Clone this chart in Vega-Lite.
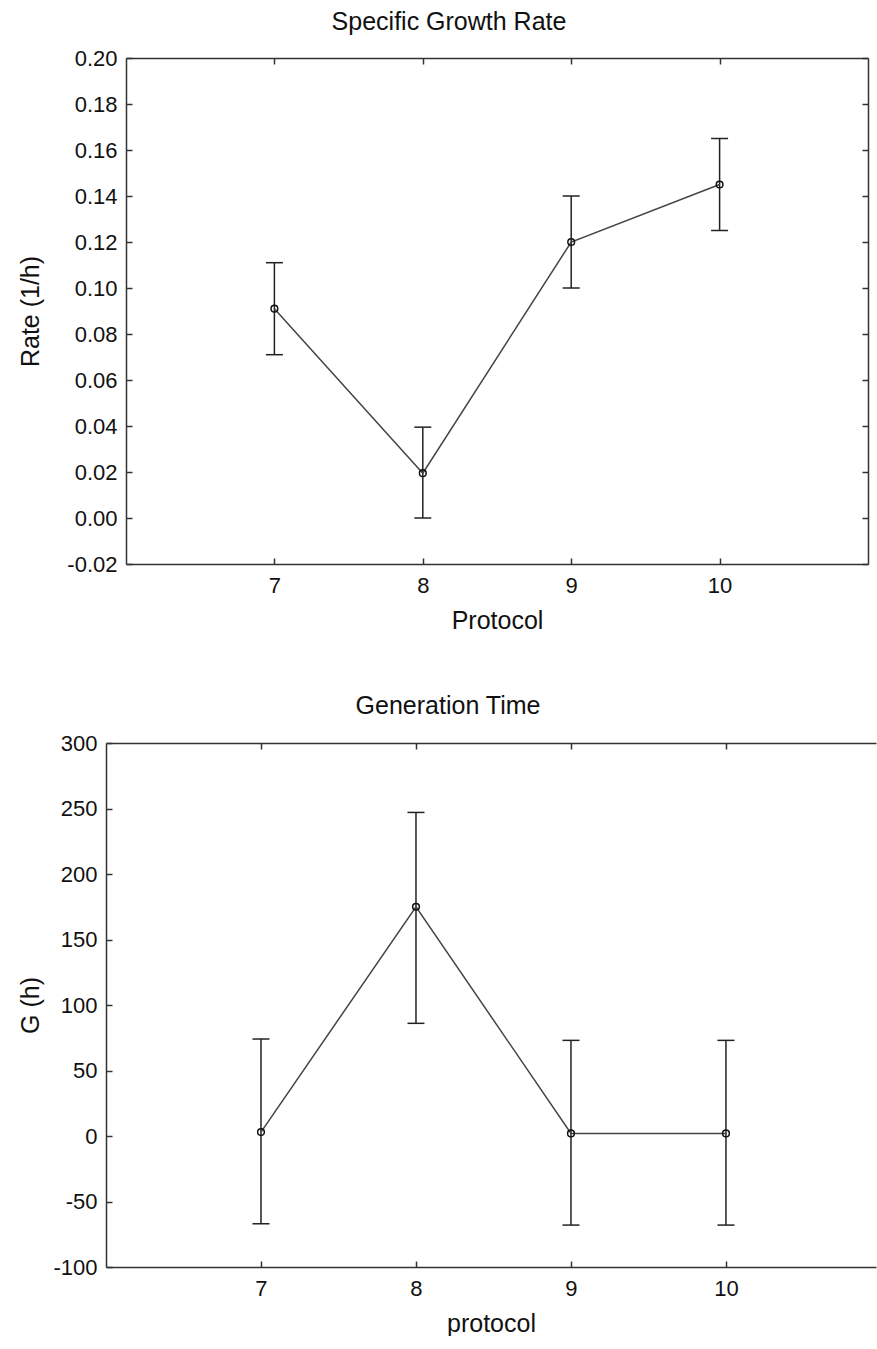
{
  "$schema": "https://vega.github.io/schema/vega-lite/v6.json",
  "background": "white",
  "padding": {"left": 18, "top": 10, "right": 0, "bottom": 0},
  "datasets": {
    "growth": [
      {"protocol": 7, "rate": 0.091, "lower": 0.071, "upper": 0.111},
      {"protocol": 8, "rate": 0.0195, "lower": 0.0, "upper": 0.0395},
      {"protocol": 9, "rate": 0.12, "lower": 0.10, "upper": 0.14},
      {"protocol": 10, "rate": 0.145, "lower": 0.125, "upper": 0.165}
    ],
    "gen": [
      {"protocol": 7, "G": 3, "lower": -67, "upper": 74},
      {"protocol": 8, "G": 175, "lower": 86, "upper": 247},
      {"protocol": 9, "G": 2, "lower": -68, "upper": 73},
      {"protocol": 10, "G": 2, "lower": -68, "upper": 73}
    ]
  },
  "config": {
    "view": {"stroke": null},
    "font": "Liberation Sans",
    "title": {"font": "Liberation Sans", "fontSize": 25, "fontWeight": "normal", "color": "#111", "anchor": "middle"},
    "axis": {
      "grid": false,
      "domainColor": "#333",
      "domainWidth": 1.5,
      "tickColor": "#333",
      "tickWidth": 1.5,
      "tickSize": -6,
      "labelFont": "Liberation Sans",
      "labelFontSize": 22,
      "labelColor": "#111",
      "labelPadding": 15,
      "labelFlush": false,
      "labelOverlap": false,
      "titleFont": "Liberation Sans",
      "titleFontSize": 25,
      "titleFontWeight": "normal",
      "titleColor": "#111"
    },
    "axisX": {"labelPadding": 17}
  },
  "vconcat": [
    {
      "width": 742,
      "height": 506,
      "title": {"text": "Specific Growth Rate", "offset": 12, "dx": -48},
      "data": {"name": "growth"},
      "resolve": {"axis": {"x": "independent", "y": "independent"}},
      "layer": [
        {
          "mark": {"type": "rule", "color": "#222", "strokeWidth": 1.5},
          "encoding": {
            "x": {"field": "protocol", "type": "quantitative", "scale": {"domain": [6, 11], "nice": false, "zero": false},
                  "axis": {"orient": "bottom", "title": "Protocol", "values": [7, 8, 9, 10], "titlePadding": 12}},
            "y": {"field": "lower", "type": "quantitative", "scale": {"domain": [-0.02, 0.2], "nice": false, "zero": false},
                  "axis": {"orient": "left", "title": "Rate (1/h)", "values": [-0.02, 0, 0.02, 0.04, 0.06, 0.08, 0.1, 0.12, 0.14, 0.16, 0.18, 0.2],
                           "labelExpr": "datum.value < -0.0001 ? '-' + format(-datum.value, '.2f') : format(abs(datum.value), '.2f')", "titlePadding": 23}},
            "y2": {"field": "upper"}
          }
        },
        {
          "mark": {"type": "tick", "orient": "horizontal", "size": 17, "thickness": 1.5, "color": "#222", "opacity": 1},
          "encoding": {
            "x": {"field": "protocol", "type": "quantitative", "axis": null},
            "y": {"field": "lower", "type": "quantitative", "axis": null}
          }
        },
        {
          "mark": {"type": "tick", "orient": "horizontal", "size": 17, "thickness": 1.5, "color": "#222", "opacity": 1},
          "encoding": {
            "x": {"field": "protocol", "type": "quantitative", "axis": null},
            "y": {"field": "upper", "type": "quantitative", "axis": null}
          }
        },
        {
          "mark": {"type": "line", "color": "#444", "strokeWidth": 1.5},
          "encoding": {
            "x": {"field": "protocol", "type": "quantitative", "axis": null},
            "y": {"field": "rate", "type": "quantitative", "axis": null}
          }
        },
        {
          "mark": {"type": "point", "shape": "circle", "filled": false, "size": 45, "color": "#111", "strokeWidth": 1.5, "opacity": 1},
          "encoding": {
            "x": {"field": "protocol", "type": "quantitative",
                  "axis": {"orient": "top", "title": null, "labels": false, "values": [7, 8, 9, 10]}},
            "y": {"field": "rate", "type": "quantitative",
                  "axis": {"orient": "right", "title": null, "labels": false, "values": [-0.02, 0, 0.02, 0.04, 0.06, 0.08, 0.1, 0.12, 0.14, 0.16, 0.18, 0.2]}}
          }
        }
      ]
    },
    {
      "width": 750,
      "height": 524,
      "title": {"text": "Generation Time", "offset": 13, "dx": -53},
      "data": {"name": "gen"},
      "resolve": {"axis": {"x": "independent", "y": "independent"}},
      "layer": [
        {
          "mark": {"type": "rule", "color": "#222", "strokeWidth": 1.5},
          "encoding": {
            "x": {"field": "protocol", "type": "quantitative", "scale": {"domain": [6, 10.968], "range": [-20, 750], "nice": false, "zero": false},
                  "axis": {"orient": "bottom", "title": "protocol", "values": [7, 8, 9, 10], "titlePadding": 12}},
            "y": {"field": "lower", "type": "quantitative", "scale": {"domain": [-100, 300], "nice": false, "zero": false},
                  "axis": {"orient": "left", "offset": 20, "title": "G (h)", "values": [-100, -50, 0, 50, 100, 150, 200, 250, 300],
                           "labelExpr": "datum.value < 0 ? '-' + format(-datum.value, 'd') : format(datum.value, 'd')", "titlePadding": 9}},
            "y2": {"field": "upper"}
          }
        },
        {
          "mark": {"type": "tick", "orient": "horizontal", "size": 17, "thickness": 1.5, "color": "#222", "opacity": 1},
          "encoding": {
            "x": {"field": "protocol", "type": "quantitative", "axis": null},
            "y": {"field": "lower", "type": "quantitative", "axis": null}
          }
        },
        {
          "mark": {"type": "tick", "orient": "horizontal", "size": 17, "thickness": 1.5, "color": "#222", "opacity": 1},
          "encoding": {
            "x": {"field": "protocol", "type": "quantitative", "axis": null},
            "y": {"field": "upper", "type": "quantitative", "axis": null}
          }
        },
        {
          "mark": {"type": "line", "color": "#444", "strokeWidth": 1.5},
          "encoding": {
            "x": {"field": "protocol", "type": "quantitative", "axis": null},
            "y": {"field": "G", "type": "quantitative", "axis": null}
          }
        },
        {
          "mark": {"type": "point", "shape": "circle", "filled": false, "size": 45, "color": "#111", "strokeWidth": 1.5, "opacity": 1},
          "encoding": {
            "x": {"field": "protocol", "type": "quantitative",
                  "axis": {"orient": "top", "title": null, "labels": false, "values": [7, 8, 9, 10]}},
            "y": {"field": "G", "type": "quantitative", "axis": null}
          }
        }
      ]
    }
  ],
  "spacing": 61
}
